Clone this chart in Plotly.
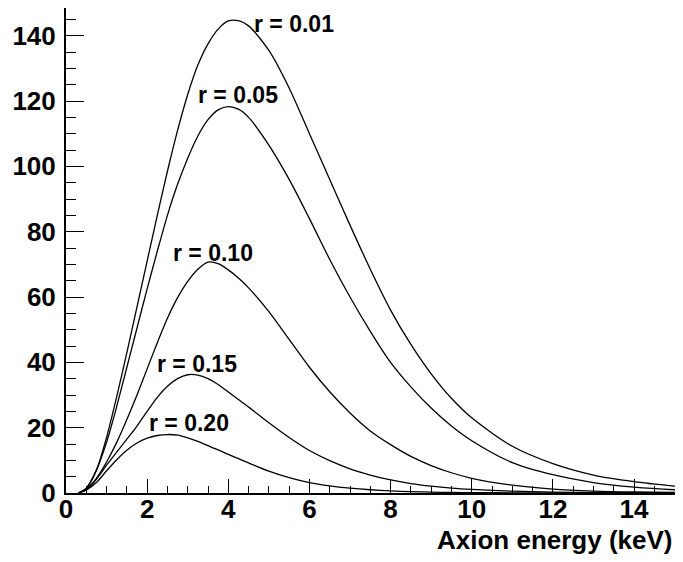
import plotly.graph_objects as go

energy = [0.3, 0.5, 0.75, 1.0, 1.25, 1.5, 1.75, 2.0, 2.25, 2.5, 2.75, 3.0, 3.25, 3.5,
          3.75, 4.0, 4.25, 4.5, 5.0, 5.5, 6.0, 6.5, 7.0, 7.5, 8.0, 8.5, 9.0, 9.5,
          10.0, 11.0, 12.0, 13.0, 14.0, 15.0, 15.25]

flux_r001 = [0, 1.5, 7, 17, 29.5, 43, 57, 71, 85, 98.5, 111, 122, 131, 137.5,
             142, 144.5, 144.6, 143, 135.5, 124, 110, 96, 82, 68.5, 56, 45.5, 36.5, 29,
             23, 14.3, 9, 5.5, 3.5, 2.1, 1.8]
flux_r005 = [0, 1.4, 7, 15.5, 26.5, 38.5, 50.5, 62.5, 74, 85, 94.5, 102.5, 109.3, 114.3,
             117.3, 118.3, 117.5, 115, 106.5, 96, 84, 71.5, 60, 49.5, 40, 32.5, 26, 20.5,
             16, 9.3, 5.6, 3.2, 1.8, 1.0, 0.9]
flux_r010 = [0, 1.2, 4.5, 9.5, 15.5, 22.5, 30, 38, 46, 53.5, 59.8, 64.8, 68.5, 70.7,
             70.2, 68.3, 65.8, 62.8, 55.5, 47, 38.5, 31, 24.5, 19, 14.8, 11.2, 8.4, 6.2,
             4.5, 2.4, 1.2, 0.6, 0.3, 0.15, 0.12]
flux_r015 = [0, 1.0, 4.2, 8.5, 12.5, 16.5, 20.5, 25, 29.3, 32.7, 35, 36.2, 36.1, 35.0,
             33.2, 30.9, 28.6, 26.3, 21.5, 17.0, 13.0, 9.9, 7.4, 5.5, 4.0, 2.9, 2.1, 1.5,
             1.1, 0.55, 0.28, 0.14, 0.07, 0.04, 0.03]
flux_r020 = [0, 0.9, 3.2, 6.8, 10.2, 13.1, 15.3, 16.8, 17.6, 17.9, 17.7, 16.9, 15.8, 14.5,
             13.2, 11.8, 10.5, 9.2, 6.7, 4.7, 3.2, 2.2, 1.5, 1.0, 0.65, 0.42, 0.27, 0.17,
             0.11, 0.05, 0.02, 0.01, 0.005, 0.002, 0.002]

series = [flux_r001, flux_r005, flux_r010, flux_r015, flux_r020]

label_text = ["r = 0.01", "r = 0.05", "r = 0.10", "r = 0.15", "r = 0.20"]
label_x = [5.62, 4.24, 3.62, 3.23, 3.02]
label_y = [143.5, 121.9, 73.5, 39.5, 21.5]

x_ticks = [0, 2, 4, 6, 8, 10, 12, 14]
y_ticks = [0, 20, 40, 60, 80, 100, 120, 140]
x_title = "Axion energy (keV)"

FONT = "Liberation Sans, Arial, Helvetica, sans-serif"

fig = go.Figure()
for ys in series:
    fig.add_trace(go.Scatter(x=energy, y=ys, mode="lines",
                             line=dict(color="black", width=1.3, shape="spline", smoothing=0.8),
                             showlegend=False, hoverinfo="skip"))

for t, lx, ly in zip(label_text, label_x, label_y):
    fig.add_annotation(x=lx, y=ly, text=t, showarrow=False, xanchor="center", yanchor="middle",
                       font=dict(family=FONT, size=23, color="black", weight="bold"))

fig.add_annotation(x=1.0, y=-0.096, xref="paper", yref="paper", text=x_title, showarrow=False,
                   xanchor="right", yanchor="middle",
                   font=dict(family=FONT, size=26, color="black", weight="bold"))

fig.update_layout(
    width=667, height=546,
    margin=dict(l=58, r=0, t=0, b=61),
    paper_bgcolor="white", plot_bgcolor="white",
    font=dict(family=FONT, color="black"),
)
fig.update_xaxes(
    range=[0, 15.01], tickvals=x_ticks, ticktext=[str(v) for v in x_ticks],
    ticks="inside", ticklen=14, tickwidth=1.3, tickcolor="black",
    minor=dict(dtick=0.5, tick0=0, ticks="inside", ticklen=7, tickwidth=1.1, tickcolor="black"),
    showline=True, linecolor="black", linewidth=2, mirror=True,
    showgrid=False, zeroline=False, automargin=False, ticklabelstandoff=-8,
    tickfont=dict(family=FONT, size=26, color="black", weight="bold"),
)
fig.update_yaxes(
    range=[0, 148.47], tickvals=y_ticks, ticktext=[str(v) for v in y_ticks],
    ticks="inside", ticklen=18, tickwidth=1.3, tickcolor="black",
    minor=dict(dtick=5, tick0=0, ticks="inside", ticklen=10, tickwidth=1.1, tickcolor="black"),
    showline=True, linecolor="black", linewidth=2, mirror=True,
    showgrid=False, zeroline=False, automargin=False, ticklabelstandoff=3,
    tickfont=dict(family=FONT, size=26, color="black", weight="bold"),
)

fig.write_html("out.html")
